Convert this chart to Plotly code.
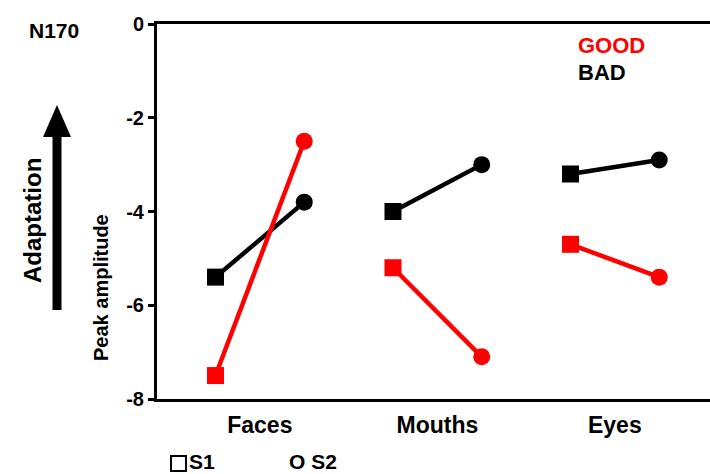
import plotly.graph_objects as go

categories = ["Faces", "Mouths", "Eyes"]
sessions = ["S1", "S2"]
good_s1 = [-7.5, -5.2, -4.7]
good_s2 = [-2.5, -7.1, -5.4]
bad_s1 = [-5.4, -4.0, -3.2]
bad_s2 = [-3.8, -3.0, -2.9]
y_ticks = [0, -2, -4, -6, -8]

W, H = 710, 474
L, R, T, B = 157, 0, 24, 75
PW, PH = W - L - R, H - T - B

def px(x):
    return (x - L) / PW

def py(y):
    return (H - B - y) / PH

FONT = "Liberation Sans, Arial, Helvetica, sans-serif"

fig = go.Figure()
offset = 0.25
for s1, s2, color in [(bad_s1, bad_s2, "black"), (good_s1, good_s2, "red")]:
    for i, cat in enumerate(categories):
        fig.add_trace(go.Scatter(
            x=[i - offset, i + offset], y=[s1[i], s2[i]],
            mode="lines+markers",
            line=dict(color=color, width=4.5),
            marker=dict(symbol=["square", "circle"], size=[17, 17], color=color,
                        opacity=1, line=dict(width=0, color=color)),
            opacity=1,
            showlegend=False, cliponaxis=False,
            hoverinfo="skip",
        ))

fig.update_layout(
    width=W, height=H,
    margin=dict(l=L, r=R, t=T, b=B),
    paper_bgcolor="white", plot_bgcolor="white",
    font=dict(family=FONT, color="black"),
    xaxis=dict(
        range=[(L - 259.85) / 177.5, (W - 259.85) / 177.5],
        tickmode="array", tickvals=[0, 1, 2], ticktext=categories,
        tickfont=dict(size=23, family=FONT, weight="bold"),
        ticklabelstandoff=3,
        showline=True, linecolor="black", linewidth=3, mirror=True,
        showgrid=False, zeroline=False, ticks="", ticklen=0,
    ),
    yaxis=dict(
        range=[-8, 0], tickmode="array", tickvals=y_ticks,
        ticktext=[str(v) if v == 0 else "-" + str(abs(v)) for v in y_ticks],
        tickfont=dict(size=20, family=FONT, weight="bold"),
        showline=True, linecolor="black", linewidth=3,
        ticks="outside", ticklen=6, tickwidth=3, tickcolor="black",
        showgrid=False, zeroline=False,
    ),
)

# arrow
sx0, sx1, sy0, sy1 = 52.5, 61.5, 135, 310
hx0, hx1, hy0, hy1 = 43, 71, 137, 105
fig.add_shape(type="rect", xref="paper", yref="paper",
              x0=px(sx0), x1=px(sx1), y0=py(sy1), y1=py(sy0),
              fillcolor="black", line=dict(width=0))
fig.add_shape(type="path", xref="paper", yref="paper",
              path=f"M {px(hx0)} {py(hy0)} L {px(hx1)} {py(hy0)} L {px((hx0+hx1)/2)} {py(hy1)} Z",
              fillcolor="black", line=dict(width=0))

# open-square key symbol for S1
fig.add_shape(type="rect", xref="paper", yref="paper",
              x0=px(171), x1=px(186), y0=py(471), y1=py(456),
              fillcolor="white", line=dict(color="black", width=2))

ann = [
    dict(text="N170", x=px(27), y=py(30), size=21, xanchor="left"),
    dict(text="Adaptation", x=px(32), y=py(221), size=24, angle=-90),
    dict(text="Peak amplitude", x=px(101), y=py(288), size=20, angle=-90),
    dict(text="GOOD", x=px(576), y=py(45), size=22, color="red", xanchor="left"),
    dict(text="BAD", x=px(576), y=py(72), size=22, xanchor="left"),
    dict(text="S1", x=px(187), y=py(461), size=21, xanchor="left"),
    dict(text="O S2", x=px(287), y=py(461), size=21, xanchor="left"),
]
for a in ann:
    fig.add_annotation(
        text=a["text"], x=a["x"], y=a["y"], xref="paper", yref="paper",
        showarrow=False, textangle=a.get("angle", 0),
        xanchor=a.get("xanchor", "center"), yanchor="middle",
        font=dict(size=a["size"], color=a.get("color", "black"), family=FONT, weight="bold"),
    )

fig.write_html("out.html", config={"displayModeBar": False},
               post_script="document.body.style.margin='0px';")
